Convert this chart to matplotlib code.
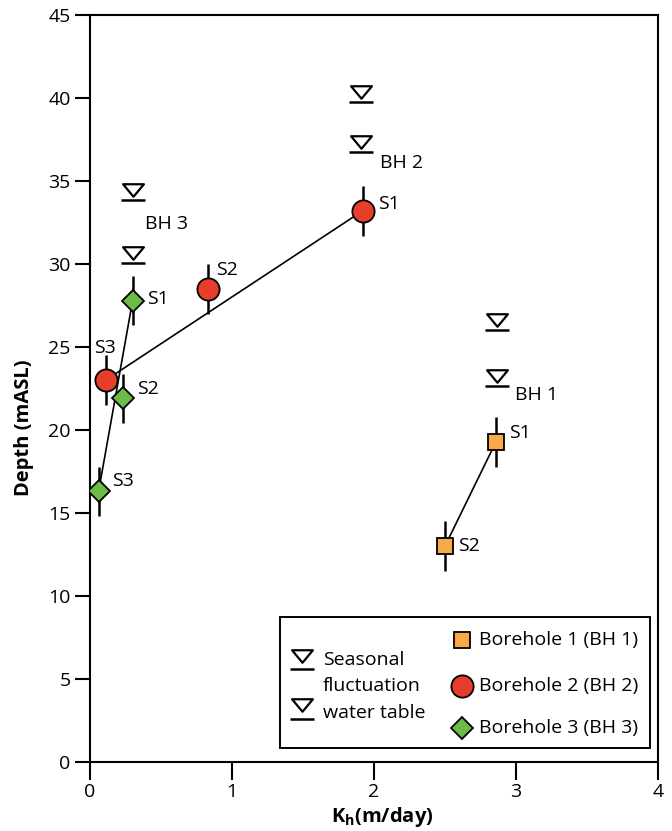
import numpy as np
import matplotlib.pyplot as plt
from matplotlib.path import Path
from matplotlib.patches import Rectangle

plt.rcParams["font.family"] = ["Open Sans", "DejaVu Sans"]
plt.rcParams["mathtext.fontset"] = "custom"
plt.rcParams["mathtext.rm"] = "Open Sans"
plt.rcParams["mathtext.bf"] = "Open Sans:bold"

FS = 14

# hydraulic conductivity (m/day) and depth (mASL) of the samples
bh1_kh = [2.86, 2.50]
bh1_depth = [19.3, 13.0]
bh1_labels = ["S1", "S2"]

bh2_kh = [1.92, 0.83, 0.11]
bh2_depth = [33.2, 28.5, 23.0]
bh2_labels = ["S1", "S2", "S3"]

bh3_kh = [0.30, 0.23, 0.06]
bh3_depth = [27.8, 21.9, 16.3]
bh3_labels = ["S1", "S2", "S3"]

depth_err = 1.5

# seasonal water table levels (high, low) per borehole
wt_kh = {"BH 1": 2.87, "BH 2": 1.91, "BH 3": 0.30}
wt_levels = {"BH 1": [26.0, 22.65], "BH 2": [39.75, 36.75], "BH 3": [33.85, 30.05]}

colors = {"BH 1": "#F7AA48", "BH 2": "#E63E2A", "BH 3": "#6BBB47"}

# flattened down-pointing triangle for the water table symbol
tri = Path([(-1, 0.6), (1, 0.6), (0, -0.6), (-1, 0.6)],
           [Path.MOVETO, Path.LINETO, Path.LINETO, Path.CLOSEPOLY])

fig = plt.figure(figsize=(6.72, 8.31), dpi=100)
ax = fig.add_axes([0.134, 0.083, 0.845, 0.899])


def water_table(x, level, **kw):
    ax.plot(x, level + 0.6, marker=tri, ms=15, mfc="white", mec="black",
            mew=1.6, ls="none", **kw)
    ax.plot(x, level, marker="_", ms=17, mec="black", mew=1.8, ls="none", **kw)


def borehole(kh, depth, labels, marker, ms, color, offsets, line_idx):
    i, j = line_idx
    ax.plot([kh[i], kh[j]], [depth[i], depth[j]], color="black", lw=1.2, zorder=2)
    ax.errorbar(kh, depth, yerr=depth_err, fmt="none", ecolor="black",
                elinewidth=1.8, capsize=0, zorder=2)
    ax.plot(kh, depth, marker=marker, ms=ms, mfc=color, mec="black", mew=1.3,
            ls="none", zorder=3)
    for x, y, lab, off in zip(kh, depth, labels, offsets):
        ax.annotate(lab, (x, y), xytext=off, textcoords="offset pixels",
                    fontsize=FS, ha="left", va="center")


borehole(bh1_kh, bh1_depth, bh1_labels, "s", 11, colors["BH 1"],
         [(13, 9), (13, 0)], (0, 1))
borehole(bh2_kh, bh2_depth, bh2_labels, "o", 16, colors["BH 2"],
         [(15, 7), (8, 19), (-12, 32)], (0, 2))
borehole(bh3_kh, bh3_depth, bh3_labels, "D", 11, colors["BH 3"],
         [(14, 2), (14, 9), (13, 10)], (0, 2))

for bh, x in wt_kh.items():
    for lev in wt_levels[bh]:
        water_table(x, lev, zorder=3)

bh_text_pos = {"BH 1": (2.99, 22.1), "BH 2": (2.04, 36.1), "BH 3": (0.39, 32.4)}
for bh, (x, y) in bh_text_pos.items():
    ax.text(x, y, bh, fontsize=FS, ha="left", va="center")

ax.set_xlim(0, 4)
ax.set_ylim(0, 45)
ax.set_xticks(range(0, 5))
ax.set_yticks(range(0, 46, 5))
ax.tick_params(direction="out", width=1.5, labelsize=FS)
ax.tick_params(axis="x", length=13, pad=2)
ax.tick_params(axis="y", length=11, pad=3)
for sp in ax.spines.values():
    sp.set_linewidth(1.5)
ax.set_xlabel(r"$\mathbf{K_h}$(m/day)", fontsize=14.5, fontweight="bold")
ax.set_ylabel("Depth (mASL)", fontsize=14.5, fontweight="bold")


# legend box drawn by hand, positions in axes fraction
def fx(px):
    return (px - 90) / 568


def fy(py):
    return (762 - py) / 747


ax.xaxis.set_label_coords(fx(382), fy(805))
ax.yaxis.set_label_coords(fx(34), fy(428))

ax.add_patch(Rectangle((fx(280), fy(748)), fx(650) - fx(280), fy(617) - fy(748),
                       transform=ax.transAxes, fill=False, ec="black", lw=1.4,
                       zorder=4))
for ty, ly in [(656, 669), (705, 719)]:
    ax.plot(fx(302), fy(ty), marker=tri, ms=15, mfc="white", mec="black",
            mew=1.6, transform=ax.transAxes, clip_on=False, zorder=5)
    ax.plot(fx(302), fy(ly), marker="_", ms=17, mec="black", mew=1.8,
            transform=ax.transAxes, clip_on=False, zorder=5)
for txt, py in [("Seasonal", 660), ("fluctuation", 686), ("water table", 713)]:
    ax.text(fx(323), fy(py), txt, transform=ax.transAxes, fontsize=FS,
            ha="left", va="center", zorder=5)

leg_items = [("s", 11, colors["BH 1"], "Borehole 1 (BH 1)", 640),
             ("o", 16, colors["BH 2"], "Borehole 2 (BH 2)", 686),
             ("D", 11, colors["BH 3"], "Borehole 3 (BH 3)", 728)]
for mk, ms, c, txt, py in leg_items:
    ax.plot(fx(462), fy(py), marker=mk, ms=ms, mfc=c, mec="black", mew=1.3,
            transform=ax.transAxes, clip_on=False, zorder=5)
    ax.text(fx(479), fy(py), txt, transform=ax.transAxes, fontsize=FS,
            ha="left", va="center", zorder=5)

fig.savefig("out.png", dpi=100)
